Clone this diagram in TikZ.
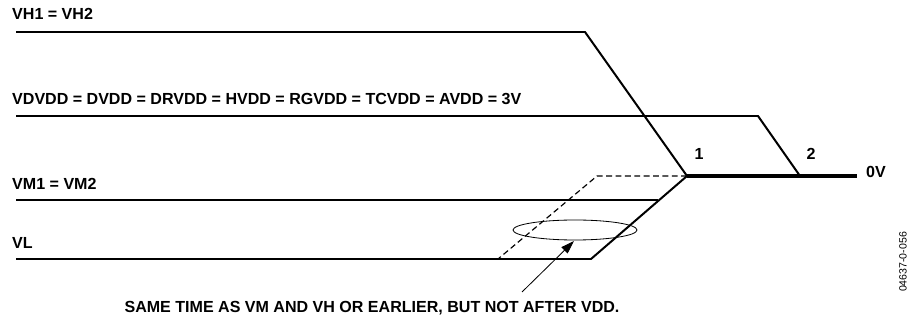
\documentclass[tikz,border=0pt]{standalone}
\usepackage{fontspec}
\setmainfont{Liberation Sans}
\usetikzlibrary{arrows.meta}

\begin{document}
\begin{tikzpicture}[
  x=0.3mm,y=-0.3mm,
  rail/.style={line width=1.7pt,line join=miter},
  ground/.style={line width=3.6pt},
  early/.style={line width=1pt,dash pattern=on 5pt off 3pt},
  label/.style={font=\bfseries\fontsize{13.7}{15}\selectfont,inner sep=0pt},
  pointer/.style={-{Triangle[length=4mm,width=2.6mm]},line width=0.7pt}
]
  \useasboundingbox (0,0) rectangle (911,320);

  \node[label,anchor=base west] (vhname) at (12,20) {VH1 = VH2};
  \node[label,anchor=base west] (vddname) at (12,105) {VDVDD = DVDD = DRVDD = HVDD = RGVDD = TCVDD = AVDD = 3V};
  \node[label,anchor=base west] (vmname) at (12,190) {VM1 = VM2};
  \node[label,anchor=base west] (vlname) at (12,249) {VL};
  \node[label] (first) at (699,154) {1};
  \node[label] (second) at (811,154) {2};
  \node[label,anchor=west] (zero) at (866,172) {0V};
  \node[label,anchor=base] (remark) at (372,312) {SAME TIME AS VM AND VH OR EARLIER, BUT NOT AFTER VDD.};
  \node[font=\fontsize{9}{10}\selectfont,rotate=90,inner sep=0pt] (figid) at (903,262) {04637-0-056};

  \coordinate (vhstart) at (16,32);
  \coordinate (vhknee) at (585,32);
  \coordinate (vddstart) at (16,116);
  \coordinate (vddknee) at (758,116);
  \coordinate (vmstart) at (16,200);
  \coordinate (vmknee) at (658,200);
  \coordinate (vlstart) at (16,259);
  \coordinate (vlknee) at (591,259);
  \coordinate (vlearly) at (498,259);
  \coordinate (earlyknee) at (597,176);
  \coordinate (point1) at (687,176);
  \coordinate (point2) at (800,176);
  \coordinate (railend) at (857,176);
  \coordinate (tail) at (522,292);

  \draw[ground] (point1) -- (railend);
  \draw[rail] (vhstart) -- (vhknee) -- (point1);
  \draw[rail] (vddstart) -- (vddknee) -- (point2);
  \draw[rail] (vmstart) -- (vmknee);
  \draw[rail] (vlstart) -- (vlknee) -- (point1);
  \draw[early] (point1) -- (earlyknee) -- (vlearly);
  \draw[line width=0.7pt] (575,230) ellipse [x radius=62,y radius=10];
  \draw[pointer] (tail) -- (574,241);
\end{tikzpicture}
\end{document}
